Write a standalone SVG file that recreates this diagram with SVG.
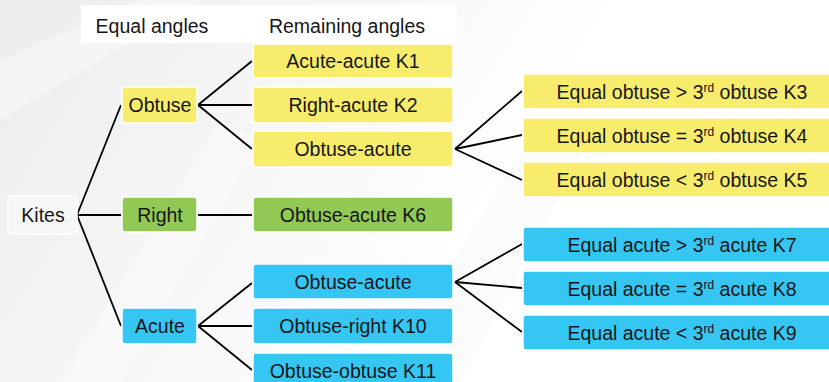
<svg xmlns="http://www.w3.org/2000/svg" width="829" height="382" viewBox="0 0 829 382">
<defs>
<linearGradient id="bg" x1="0" y1="0" x2="1" y2="0.3">
<stop offset="0" stop-color="#ececec"/>
<stop offset="0.45" stop-color="#f8f8f8"/>
<stop offset="0.7" stop-color="#ffffff"/>
</linearGradient>
<style>
text{font-family:"Liberation Sans",Arial,sans-serif;font-size:19.5px;fill:#161616;text-anchor:middle}
.b{stroke:#ffffff;stroke-width:1.5}
.y{fill:#F8EC6D}
.g{fill:#92C955}
.c{fill:#35C6F3}
.w{fill:#f6f6f6}
.sup{font-size:12px}
#connectors line{stroke:#000;stroke-width:1.8;fill:none}
</style>
</defs>
<rect width="829" height="382" fill="url(#bg)"/>
<polygon points="0,60 140,0 200,0 0,120" fill="#ffffff" opacity="0.35"/>
<polygon points="60,382 220,120 260,140 120,382" fill="#ffffff" opacity="0.3"/>
<polygon points="380,382 540,120 600,120 460,382" fill="#f3f3f3" opacity="0.35"/>
<g id="header">
<rect x="81" y="5" width="376" height="38" fill="#ffffff"/>
<text x="152" y="33">Equal angles</text>
<text x="347" y="33">Remaining angles</text>
</g>
<g id="connectors">
<line x1="77" y1="215" x2="121" y2="105"/>
<line x1="77" y1="215" x2="121" y2="215"/>
<line x1="77" y1="215" x2="121" y2="326"/>
<line x1="198" y1="105" x2="252" y2="61"/>
<line x1="198" y1="105" x2="252" y2="105"/>
<line x1="198" y1="105" x2="252" y2="149"/>
<line x1="198" y1="215" x2="252" y2="215"/>
<line x1="198" y1="326" x2="252" y2="283"/>
<line x1="198" y1="326" x2="252" y2="326"/>
<line x1="198" y1="326" x2="252" y2="370"/>
<line x1="455" y1="149" x2="522" y2="91"/>
<line x1="455" y1="149" x2="522" y2="135"/>
<line x1="455" y1="149" x2="522" y2="180"/>
<line x1="455" y1="282" x2="522" y2="244"/>
<line x1="455" y1="282" x2="522" y2="288"/>
<line x1="455" y1="282" x2="522" y2="332"/>
</g>
<g id="kites"><rect class="b w" x="8" y="196" width="69" height="38" rx="3"/><text x="43" y="222">Kites</text></g>
<g id="obtuse"><rect class="b y" x="122" y="87" width="75" height="36" rx="3"/><text x="160" y="112">Obtuse</text></g>
<g id="right"><rect class="b g" x="122" y="197" width="75" height="35" rx="3"/><text x="160" y="222">Right</text></g>
<g id="acute"><rect class="b c" x="122" y="308" width="75" height="36" rx="3"/><text x="160" y="333">Acute</text></g>
<g id="k1"><rect class="b y" x="253" y="44" width="200" height="34" rx="3"/><text x="353" y="68">Acute-acute K1</text></g>
<g id="k2"><rect class="b y" x="253" y="87" width="200" height="36" rx="3"/><text x="353" y="112">Right-acute K2</text></g>
<g id="obtuse-acute-y"><rect class="b y" x="253" y="131" width="200" height="36" rx="3"/><text x="353" y="156">Obtuse-acute</text></g>
<g id="k6"><rect class="b g" x="253" y="197" width="200" height="35" rx="3"/><text x="353" y="222">Obtuse-acute K6</text></g>
<g id="obtuse-acute-b"><rect class="b c" x="253" y="264" width="200" height="35" rx="3"/><text x="353" y="289">Obtuse-acute</text></g>
<g id="k10"><rect class="b c" x="253" y="308" width="200" height="36" rx="3"/><text x="353" y="333">Obtuse-right K10</text></g>
<g id="k11"><rect class="b c" x="253" y="353" width="200" height="36" rx="3"/><text x="353" y="378">Obtuse-obtuse K11</text></g>
<g id="k3"><rect class="b y" x="523" y="74" width="320" height="35" rx="3"/><text x="682" y="99">Equal obtuse &gt; 3<tspan class="sup" dy="-7">rd</tspan><tspan dy="7"> obtuse K3</tspan></text></g>
<g id="k4"><rect class="b y" x="523" y="118" width="320" height="35" rx="3"/><text x="682" y="143">Equal obtuse = 3<tspan class="sup" dy="-7">rd</tspan><tspan dy="7"> obtuse K4</tspan></text></g>
<g id="k5"><rect class="b y" x="523" y="162" width="320" height="35" rx="3"/><text x="682" y="187">Equal obtuse &lt; 3<tspan class="sup" dy="-7">rd</tspan><tspan dy="7"> obtuse K5</tspan></text></g>
<g id="k7"><rect class="b c" x="523" y="227" width="320" height="35" rx="3"/><text x="682" y="252">Equal acute &gt; 3<tspan class="sup" dy="-7">rd</tspan><tspan dy="7"> acute K7</tspan></text></g>
<g id="k8"><rect class="b c" x="523" y="271" width="320" height="35" rx="3"/><text x="682" y="296">Equal acute = 3<tspan class="sup" dy="-7">rd</tspan><tspan dy="7"> acute K8</tspan></text></g>
<g id="k9"><rect class="b c" x="523" y="315" width="320" height="35" rx="3"/><text x="682" y="340">Equal acute &lt; 3<tspan class="sup" dy="-7">rd</tspan><tspan dy="7"> acute K9</tspan></text></g>
</svg>
